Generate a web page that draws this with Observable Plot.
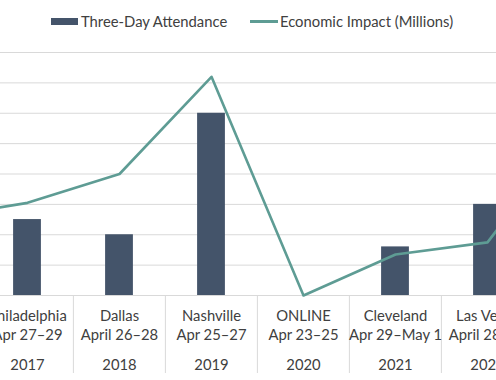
<!DOCTYPE html>
<html>
<head>
<meta charset="utf-8">
<script src="https://cdn.jsdelivr.net/npm/d3@7"></script>
<script src="https://cdn.jsdelivr.net/npm/@observablehq/plot@0.6"></script>
<style>
  html, body { margin: 0; padding: 0; background: #fff; overflow: hidden; }
  body { width: 496px; height: 380px; font-family: Lato, "Open Sans", sans-serif; color: #404040; }
  #legend { height: 40px; position: relative; font-size: 14.8px; }
  .item { position: absolute; top: 12px; display: flex; align-items: center; white-space: nowrap; }
  .sw-bar { width: 27px; height: 7px; background: #44546a; margin-right: 3px; }
  .sw-line { width: 28px; height: 3px; background: #5e9c94; margin-right: 2px; }
  #chart svg { display: block; overflow: hidden; }
</style>
</head>
<body>
<div id="legend">
  <div class="item" style="left:51px"><span class="sw-bar"></span><span>Three-Day Attendance</span></div>
  <div class="item" style="left:250px"><span class="sw-line"></span><span>Economic Impact (Millions)</span></div>
</div>
<div id="chart"></div>
<script>
// Categories (first and last lie outside the visible crop)
const years = ["2016", "2017", "2018", "2019", "2020", "2021", "2022", "2023"];
const cities = ["", "Philadelphia", "Dallas", "Nashville", "ONLINE", "Cleveland", "Las Vegas", ""];
const dates = ["", "Apr 27–29", "April 26–28", "Apr 25–27", "Apr 23–25", "Apr 29–May 1", "April 28–30", ""];
// Three-Day Attendance (left axis)
const attendance = [null, 5000, 4000, 12000, null, 3200, 6000, null];
// Economic Impact in millions (right axis)
const impact = [25.5, 30.5, 40, 72, 0, 13.5, 17.5, 57];
const leftMax = 16000, rightMax = 80, gridStep = 2000;

const data = years.map((y, i) => ({
  key: y, city: cities[i], date: dates[i], year: y,
  att: attendance[i], imp: impact[i]
}));
const barData = data.filter(d => d.att != null);
const visible = data.filter(d => d.city !== "");
const ratio = leftMax / rightMax;

const chart = Plot.plot({
  width: 496,
  height: 340,
  marginTop: 12,
  marginBottom: 85,
  marginLeft: 0,
  marginRight: 0,
  style: { fontFamily: "Lato, 'Open Sans', sans-serif", color: "#404040", fontSize: "14.8px", overflow: "hidden" },
  x: { type: "band", domain: years, range: [-111.3, 626.3], padding: 0, axis: null },
  y: { domain: [0, leftMax], axis: null },
  marks: [
    Plot.ruleY(d3.range(0, leftMax + 1, gridStep), { stroke: "#d9d9d9", strokeWidth: 1 }),
    Plot.barY(barData, { x: "key", y: "att", fill: "#44546a", insetLeft: 32.1, insetRight: 32.1 }),
    Plot.lineY(data, { x: "key", y: d => d.imp * ratio, stroke: "#5e9c94", strokeWidth: 2.6, strokeLinejoin: "round" }),
    Plot.axisX({ ticks: years, tickSize: 78, tickFormat: () => "", label: null, dx: -46.1, stroke: "#d9d9d9", strokeOpacity: 1 }),
    Plot.text(visible, { x: "key", text: "city", frameAnchor: "bottom", dy: 25, fill: "#404040" }),
    Plot.text(visible, { x: "key", text: "date", frameAnchor: "bottom", dy: 44, fill: "#404040" }),
    Plot.text(visible, { x: "key", text: "year", frameAnchor: "bottom", dy: 74, fill: "#404040" })
  ]
});
document.getElementById("chart").appendChild(chart);
</script>
</body>
</html>
